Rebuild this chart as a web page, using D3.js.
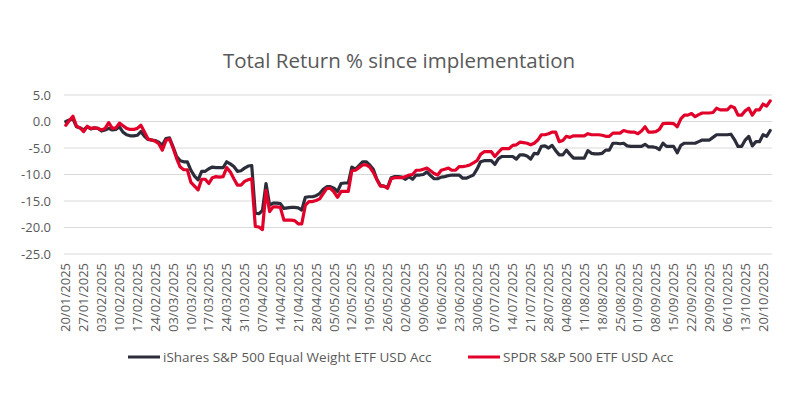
<!DOCTYPE html>
<html>
<head>
<meta charset="utf-8">
<script src="https://cdn.jsdelivr.net/npm/d3@7"></script>
<style>
  body { margin: 0; background: #fff; }
  svg { display: block; font-family: "Open Sans", sans-serif; }
</style>
</head>
<body>
<svg id="chart" width="800" height="420"></svg>
<script>
// weekly tick labels shown on the x axis
let tickLabels = [
  "20/01/2025","27/01/2025","03/02/2025","10/02/2025","17/02/2025","24/02/2025",
  "03/03/2025","10/03/2025","17/03/2025","24/03/2025","31/03/2025","07/04/2025",
  "14/04/2025","21/04/2025","28/04/2025","05/05/2025","12/05/2025","19/05/2025",
  "26/05/2025","02/06/2025","09/06/2025","16/06/2025","23/06/2025","30/06/2025",
  "07/07/2025","14/07/2025","21/07/2025","28/07/2025","04/08/2025","11/08/2025",
  "18/08/2025","25/08/2025","01/09/2025","08/09/2025","15/09/2025","22/09/2025",
  "29/09/2025","06/10/2025","13/10/2025","20/10/2025"
]

let yTicks = [5, 0, -5, -10, -15, -20, -25]

let seriesNames = ["iShares S&P 500 Equal Weight ETF USD Acc", "SPDR S&P 500 ETF USD Acc"]

// daily total return %, one row per week (Mon..Fri)
let equalWeight = [
  0.0, 0.3, 0.5, -1.0, -1.2,
  -1.6, -1.0, -1.4, -1.2, -1.3,
  -1.8, -1.6, -1.3, -1.6, -1.5,
  -1.0, -2.0, -2.5, -2.7, -2.7,
  -2.6, -1.9, -2.8, -3.4, -3.5,
  -3.6, -3.9, -4.5, -3.2, -3.1,
  -4.8, -6.6, -7.4, -7.6, -7.6,
  -9.2, -10.3, -11.0, -9.4, -9.4,
  -8.9, -8.6, -8.7, -8.7, -8.7,
  -7.6, -8.0, -8.5, -9.4, -9.3,
  -8.8, -8.4, -8.3, -17.3, -17.4,
  -16.8, -11.7, -15.8, -15.4, -15.4,
  -15.5, -16.4, -16.3, -16.2, -16.2,
  -16.3, -16.7, -14.3, -14.2, -14.2,
  -14.0, -13.6, -12.8, -12.3, -12.3,
  -12.6, -13.2, -11.7, -11.6, -11.6,
  -8.6, -9.0, -8.3, -7.6, -7.6,
  -8.2, -9.0, -10.9, -12.1, -12.2,
  -12.4, -10.6, -10.4, -10.4, -10.5,
  -10.9, -10.4, -10.9, -10.1, -10.1,
  -10.0, -9.5, -10.2, -10.8, -10.8,
  -10.5, -10.4, -10.2, -10.1, -10.1,
  -10.1, -10.7, -10.7, -10.4, -10.1,
  -9.0, -7.6, -7.4, -7.4, -7.4,
  -8.1, -7.0, -6.6, -6.6, -6.6,
  -6.6, -7.1, -6.3, -6.3, -6.5,
  -7.1, -6.0, -6.1, -4.7, -4.6,
  -5.0, -4.5, -5.5, -6.3, -6.3,
  -5.4, -6.2, -6.9, -6.9, -6.9,
  -6.9, -5.5, -6.0, -6.1, -6.1,
  -6.0, -5.4, -5.4, -4.1, -4.1,
  -4.2, -4.1, -4.6, -4.7, -4.7,
  -4.7, -4.7, -4.3, -4.8, -4.8,
  -4.9, -5.3, -4.1, -4.7, -4.7,
  -4.7, -5.9, -4.5, -4.1, -4.1,
  -4.1, -4.1, -3.8, -3.5, -3.5,
  -3.5, -3.0, -2.5, -2.5, -2.5,
  -2.5, -2.4, -3.4, -4.7, -4.7,
  -3.5, -2.8, -4.6, -3.8, -3.8,
  -2.5, -2.8, -1.7
]

let spdr = [
  -0.7, 0.2, 1.0, -0.9, -1.2,
  -1.9, -0.9, -1.3, -1.2, -1.3,
  -1.6, -1.3, -0.2, -1.3, -1.2,
  -0.3, -0.8, -1.3, -1.5, -1.5,
  -1.3, -0.7, -2.0, -3.3, -3.5,
  -3.7, -4.2, -5.4, -3.6, -3.3,
  -5.0, -7.0, -8.6, -9.1, -9.1,
  -11.5, -12.2, -12.9, -10.9, -10.9,
  -11.7, -10.6, -10.4, -10.5, -10.4,
  -8.7, -9.5, -10.8, -12.0, -12.0,
  -11.3, -11.0, -10.8, -19.8, -19.9,
  -20.4, -13.0, -17.0, -16.1, -16.1,
  -16.2, -18.6, -18.6, -18.6, -18.7,
  -19.3, -19.3, -15.8, -15.1, -15.1,
  -14.9, -14.6, -13.6, -12.6, -12.6,
  -13.3, -14.3, -13.2, -13.2, -13.2,
  -9.3, -9.2, -8.7, -8.2, -8.2,
  -8.6, -9.6, -11.0, -12.2, -12.2,
  -12.6, -10.8, -10.6, -10.6, -10.6,
  -10.4, -10.1, -10.0, -9.2, -9.2,
  -9.0, -8.8, -9.3, -9.8, -10.1,
  -9.2, -9.0, -8.8, -9.2, -9.2,
  -8.5, -8.5, -8.4, -8.2, -7.8,
  -7.4, -6.2, -5.7, -5.7, -5.7,
  -6.6, -5.8, -5.1, -5.1, -5.1,
  -4.5, -4.4, -3.9, -4.0, -4.1,
  -4.4, -4.1, -3.5, -2.5, -2.5,
  -2.3, -2.0, -2.0, -3.8, -3.6,
  -2.8, -3.0, -2.7, -2.7, -2.7,
  -2.7, -2.3, -2.5, -2.5, -2.5,
  -2.6, -2.8, -2.8, -2.2, -2.2,
  -2.2, -1.7, -1.9, -2.0, -2.0,
  -2.3, -1.8, -1.0, -2.0, -2.0,
  -1.9, -1.5, -0.4, -0.35, -0.35,
  -0.4, -1.0, 0.5, 1.2, 1.2,
  1.5, 0.9, 1.3, 1.6, 1.6,
  1.6, 1.7, 2.5, 2.2, 2.2,
  2.2, 2.9, 2.6, 1.2, 1.2,
  2.0, 2.5, 1.2, 2.2, 2.2,
  3.3, 2.9, 3.9
]

let colors = ["#2b2e3a", "#e2002a"]

// trading days (Mon-Fri) from 20/01/2025
let fmt = d3.timeFormat('%d/%m/%Y')
let days = d3.timeDays(new Date(2025, 0, 20), new Date(2025, 9, 23))
    .filter((d) => d.getDay() !== 0 && d.getDay() !== 6)
    .map((d) => fmt(d))

let svg = d3.select('#chart')

let plotLeft = 64, plotRight = 772, plotTop = 95, plotBottom = 254

let x = d3.scaleBand()
    .domain(days)
    .range([plotLeft, plotRight])

let y = d3.scaleLinear()
    .domain([-25, 5])
    .range([plotBottom, plotTop])

// title
svg.append('text')
    .attr('x', 399)
    .attr('y', 68)
    .attr('text-anchor', 'middle')
    .attr('fill', '#595959')
    .style('font-size', '20.5px')
    .text('Total Return % since implementation')

// gridlines
svg.append('g')
    .selectAll('line')
    .data(yTicks)
    .enter()
    .append('line')
    .attr('x1', plotLeft)
    .attr('x2', plotRight)
    .attr('y1', (d) => y(d))
    .attr('y2', (d) => y(d))
    .attr('stroke', '#d9d9d9')
    .attr('stroke-width', 1)

// y axis
let yAxis = svg.append('g')
    .attr('transform', 'translate(' + plotLeft + ',0)')
    .call(d3.axisLeft(y).tickValues(yTicks).tickSize(0).tickPadding(13)
        .tickFormat((d) => d.toFixed(1)))
yAxis.select('.domain').remove()
yAxis.selectAll('text')
    .attr('fill', '#595959')
    .style('font-size', '13px')
    .style('font-family', '"Open Sans", sans-serif')

// x axis
let xAxis = svg.append('g')
    .attr('transform', 'translate(0,' + plotBottom + ')')
    .call(d3.axisBottom(x).tickValues(tickLabels).tickSize(0))
xAxis.select('.domain').remove()
xAxis.selectAll('text')
    .attr('transform', 'rotate(-90)')
    .attr('text-anchor', 'end')
    .attr('x', -9)
    .attr('y', 0)
    .attr('dy', '0.35em')
    .attr('fill', '#595959')
    .style('font-size', '13px')
    .style('font-family', '"Open Sans", sans-serif')

// lines
let line = d3.line()
    .x((d, i) => x(days[i]) + x.bandwidth() / 2)
    .y((d) => y(d))

let seriesData = [equalWeight, spdr]

svg.append('g')
    .selectAll('path')
    .data(seriesData)
    .enter()
    .append('path')
    .attr('d', (d) => line(d))
    .attr('fill', 'none')
    .attr('stroke', (d, i) => colors[i])
    .attr('stroke-width', 3.2)
    .attr('stroke-linejoin', 'round')
    .attr('stroke-linecap', 'round')

// legend
let legendX = [128, 468]
let legend = svg.append('g')
    .selectAll('g')
    .data(seriesNames)
    .enter()
    .append('g')
    .attr('transform', (d, i) => 'translate(' + legendX[i] + ',357)')

legend.append('line')
    .attr('x1', 0)
    .attr('x2', 32)
    .attr('stroke', (d, i) => colors[i])
    .attr('stroke-width', 3)

legend.append('text')
    .attr('x', 35)
    .attr('dy', '0.35em')
    .attr('fill', '#595959')
    .style('font-size', '13.5px')
    .text((d) => d)
</script>
</body>
</html>
